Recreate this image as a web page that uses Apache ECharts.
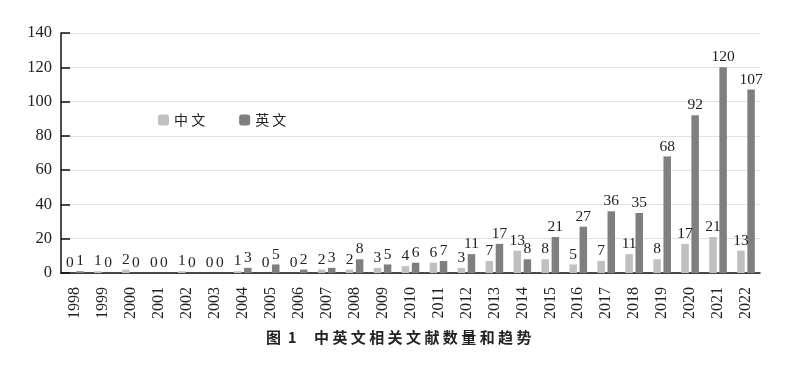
<!DOCTYPE html>
<html><head><meta charset="utf-8">
<script src="https://cdn.jsdelivr.net/npm/echarts@6/dist/echarts.min.js"></script>
<style>html,body{margin:0;padding:0;background:#fff}#c{width:808px;height:367px}</style>
</head><body><div id="c"></div>
<script>
const years = ['1998','1999','2000','2001','2002','2003','2004','2005','2006','2007','2008','2009','2010','2011','2012','2013','2014','2015','2016','2017','2018','2019','2020','2021','2022'];
const chinese = [0,1,2,0,1,0,1,0,0,2,2,3,4,6,3,7,13,8,5,7,11,8,17,21,13];
const english = [1,0,0,0,0,0,3,5,2,3,8,5,6,7,11,17,8,21,27,36,35,68,92,120,107];
const yTicks = {min:0, max:140, interval:20};

const serif = '"Liberation Serif","DejaVu Serif",serif';
const chart = echarts.init(document.getElementById('c'));
const lbl = {show:true, position:'top', distance:2, fontFamily:serif, fontSize:15.5, color:'#222'};
chart.setOption({
  animation:false,
  title:[
    {text:'图  1', left:261, top:325, textStyle:{fontFamily:'"Noto Sans CJK SC"', fontSize:15, fontWeight:'bold', color:'#222'}},
    {text:'中 英 文 相 关 文 献 数 量 和 趋 势', left:309, top:325, textStyle:{fontFamily:'"Noto Sans CJK SC"', fontSize:15, fontWeight:'bold', color:'#222'}}
  ],
  legend:{left:153, top:108, itemWidth:11, itemHeight:11, itemGap:34,
    textStyle:{fontFamily:'"Noto Sans CJK SC"', fontSize:14, color:'#222'},
    formatter: n => n.split('').join(' '),
    data:['中文','英文']},
  grid:{left:61, right:48, top:33, bottom:94},
  xAxis:{type:'category', data:years,
    axisLine:{lineStyle:{color:'#111', width:1.5}},
    axisTick:{show:false},
    axisLabel:{rotate:90, margin:14, fontFamily:serif, fontSize:16, color:'#222'}},
  yAxis:{type:'value', min:yTicks.min, max:yTicks.max, interval:yTicks.interval,
    axisLine:{show:true, lineStyle:{color:'#111', width:1.5}},
    axisTick:{show:true, inside:true, length:9, lineStyle:{color:'#111', width:1.5}},
    splitLine:{lineStyle:{color:'#e2e2e2'}},
    axisLabel:{margin:9, fontFamily:serif, fontSize:16.5, color:'#222'}},
  series:[
    {name:'中文', type:'bar', data:chinese, barWidth:7.5, barGap:'35%', itemStyle:{color:'#c0c0c0'}, label:lbl},
    {name:'英文', type:'bar', data:english, barWidth:7.5, barGap:'35%', itemStyle:{color:'#7f7f7f'}, label:lbl}
  ]
});
</script></body></html>
